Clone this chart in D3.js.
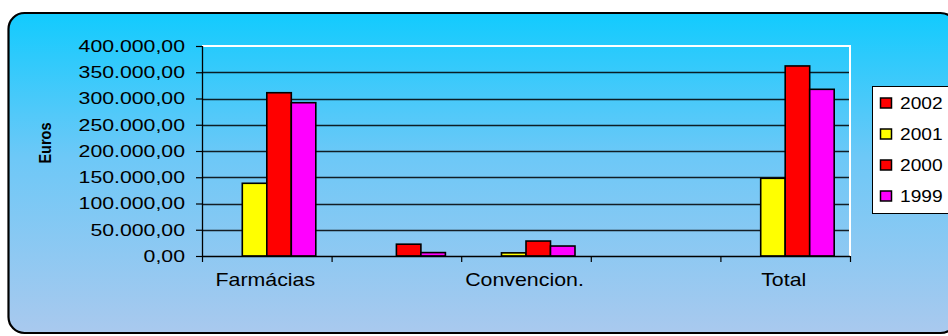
<!DOCTYPE html>
<html>
<head>
<meta charset="utf-8">
<script src="https://cdn.jsdelivr.net/npm/d3@7"></script>
<style>
  html, body { margin: 0; padding: 0; background: #fff; }
  svg { display: block; }
  text { font-family: "Liberation Sans", Arial, sans-serif; fill: #000; }
</style>
</head>
<body>
<svg id="chart" width="948" height="336"></svg>
<script>
// ---- data ----
const categories = ["Farmácias", "", "Convencion.", "", "Total"];
const seriesNames = ["2002", "2001", "2000", "1999"];
const seriesColors = ["#FF0000", "#FFFF00", "#FF0000", "#FF00FF"];
const values2002 = [null, null, null, null, null];
const values2001 = [138500, null, 6000, null, 148000];
const values2000 = [311000, 22500, 28500, null, 362000];
const values1999 = [292000, 6500, 19000, null, 317500];
const yTicks = [0, 50000, 100000, 150000, 200000, 250000, 300000, 350000, 400000];
const yTitle = "Euros";

const seriesValues = [values2002, values2001, values2000, values1999];

(function () {
const svg = d3.select("#chart");
const W = 948, H = 336;

// background gradient
const defs = svg.append("defs");
const grad = defs.append("linearGradient").attr("id", "bg").attr("x1", 0).attr("y1", 0).attr("x2", 0).attr("y2", 1);
grad.append("stop").attr("offset", "0%").attr("stop-color", "#12CBFE");
grad.append("stop").attr("offset", "45%").attr("stop-color", "#6DC8F7");
grad.append("stop").attr("offset", "100%").attr("stop-color", "#A9C9EE");

svg.append("rect").attr("x", 0).attr("y", 0).attr("width", W).attr("height", H).attr("fill", "#fff");
svg.append("rect")
  .attr("x", 8.5).attr("y", 13).attr("width", 948).attr("height", 320)
  .attr("rx", 16).attr("ry", 16)
  .attr("fill", "url(#bg)").attr("stroke", "#000").attr("stroke-width", 2.2);

// plot geometry
const pL = 202, pR = 850, pT = 46, pB = 256;

const x = d3.scaleBand().domain(d3.range(categories.length)).range([pL, pR]).paddingInner(0).paddingOuter(0);
const xs = d3.scaleBand().domain(seriesNames).range([0, x.bandwidth()]).paddingInner(0).paddingOuter(0.645);
const y = d3.scaleLinear().domain([0, 400000]).range([pB, pT]);

const fmt = d3.formatLocale({ decimal: ",", thousands: ".", grouping: [3], currency: ["", ""] }).format(",.2f");

// gridlines
const g = svg.append("g");
g.selectAll("line.grid")
  .data(yTicks.filter(t => t > 0 && t < 400000))
  .join("line")
  .attr("x1", pL).attr("x2", pR)
  .attr("y1", d => Math.round(y(d)) + 0.5).attr("y2", d => Math.round(y(d)) + 0.5)
  .attr("stroke", "#000").attr("stroke-width", 1.3).attr("stroke-opacity", 0.85);

// white plot border top / right
g.append("line").attr("x1", pL).attr("x2", pR + 1).attr("y1", pT).attr("y2", pT)
  .attr("stroke", "#fff").attr("stroke-width", 2);
g.append("line").attr("x1", pR).attr("x2", pR).attr("y1", pT).attr("y2", pB)
  .attr("stroke", "#fff").attr("stroke-width", 2);

// bars
const barData = [];
seriesValues.forEach((vals, si) => {
  vals.forEach((v, ci) => {
    if (v != null && v > 0) barData.push({ ci, si, v });
  });
});
g.selectAll("rect.bar")
  .data(barData)
  .join("rect")
  .attr("x", d => x(d.ci) + xs(seriesNames[d.si]))
  .attr("y", d => y(d.v))
  .attr("width", xs.bandwidth())
  .attr("height", d => y(0) - y(d.v))
  .attr("fill", d => seriesColors[d.si])
  .attr("stroke", "#000").attr("stroke-width", 1.6);

// y axis
const yAxis = svg.append("g").attr("transform", `translate(${pL},0)`)
  .call(d3.axisLeft(y).tickValues(yTicks).tickSize(6).tickFormat(""));
yAxis.select(".domain").attr("stroke", "#000").attr("stroke-width", 1.3).attr("d", `M0.5,${pT}V${pB}`);
yAxis.selectAll(".tick line").attr("stroke", "#000").attr("stroke-width", 1.2);

svg.append("g").selectAll("text.ylab")
  .data(yTicks)
  .join("text")
  .attr("transform", d => `translate(185,${y(d) + 5.8}) scale(1.33,1)`)
  .attr("text-anchor", "end")
  .style("font-size", "16px")
  .text(d => fmt(d));

// x axis
const xAxis = svg.append("g").attr("transform", `translate(0,${pB})`)
  .call(d3.axisBottom(x).tickSizeOuter(0).tickSize(0).tickFormat(""));
xAxis.select(".domain").attr("stroke", "#000").attr("stroke-width", 1.5).attr("d", `M${pL},0.5H${pR}`);
xAxis.selectAll(".tick").remove();
const bounds = d3.range(categories.length + 1).map(i => i < categories.length ? x(i) : x(categories.length - 1) + x.bandwidth());
xAxis.selectAll("line.bt")
  .data(bounds)
  .join("line")
  .attr("x1", d => d + 0.5).attr("x2", d => d + 0.5)
  .attr("y1", 0).attr("y2", 6)
  .attr("stroke", "#000").attr("stroke-width", 1.2);

svg.append("g").selectAll("text.xlab")
  .data(categories.map((c, i) => ({ c, i })).filter(d => d.c !== ""))
  .join("text")
  .attr("transform", d => `translate(${x(d.i) + x.bandwidth() / 2 - 1.5},286) scale(1.22,1)`)
  .attr("text-anchor", "middle")
  .style("font-size", "17.5px")
  .text(d => d.c);

// y title
svg.append("text")
  .attr("transform", "translate(51,143) rotate(-90) scale(1,1.1)")
  .attr("text-anchor", "middle")
  .style("font-size", "14.5px").style("font-weight", "bold")
  .text(yTitle);

// legend
const lg = svg.append("g");
lg.append("rect").attr("x", 872.5).attr("y", 86.5).attr("width", 100).attr("height", 127)
  .attr("fill", "#fff").attr("stroke", "#000").attr("stroke-width", 1);
const items = lg.selectAll("g.item").data(seriesNames).join("g")
  .attr("transform", (d, i) => `translate(0,${103 + i * 31})`);
items.append("rect").attr("x", 880.5).attr("y", -5).attr("width", 11).attr("height", 10)
  .attr("fill", (d, i) => seriesColors[i]).attr("stroke", "#000").attr("stroke-width", 1.5);
items.append("text")
  .attr("transform", "translate(900,6.2) scale(1.13,1)")
  .style("font-size", "17px")
  .text(d => d);
})();
</script>
</body>
</html>
